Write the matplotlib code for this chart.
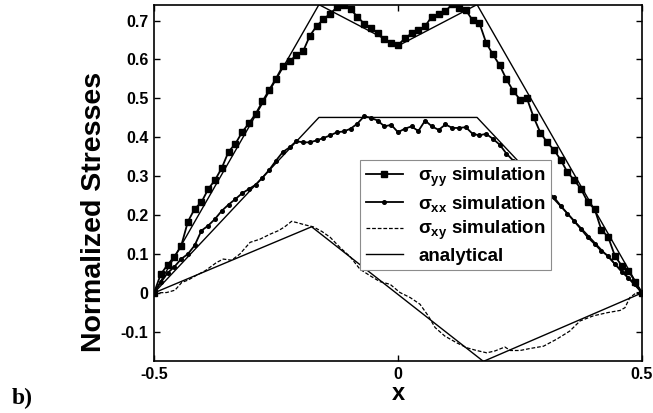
import numpy as np
import matplotlib
matplotlib.use("Agg")
import matplotlib.pyplot as plt

plt.rcParams['font.family'] = ['Liberation Sans', 'DejaVu Sans']
plt.rcParams['font.weight'] = 'bold'
plt.rcParams['mathtext.fontset'] = 'custom'
plt.rcParams['mathtext.rm'] = 'Liberation Sans:bold'
plt.rcParams['mathtext.it'] = 'Liberation Sans:bold'

# simulation grid (73 nodes across the specimen)
x_sim = np.linspace(-0.5, 0.5, 73)

sigma_yy_sim = [0.0, 0.048, 0.072, 0.093, 0.120, 0.183, 0.216, 0.233, 0.267, 0.290,
                0.321, 0.363, 0.383, 0.413, 0.436, 0.460, 0.492, 0.522, 0.551, 0.583,
                0.595, 0.611, 0.621, 0.661, 0.686, 0.703, 0.718, 0.734, 0.740, 0.729,
                0.710, 0.692, 0.682, 0.667, 0.652, 0.643, 0.637,
                0.654, 0.667, 0.675, 0.686, 0.710, 0.716, 0.724, 0.742, 0.733, 0.727,
                0.701, 0.694, 0.643, 0.613, 0.585, 0.549, 0.519, 0.497, 0.501, 0.452,
                0.412, 0.387, 0.368, 0.342, 0.310, 0.290, 0.267, 0.233, 0.216, 0.162,
                0.144, 0.095, 0.070, 0.057, 0.028, 0.0]

sigma_xx_sim = [0.0, 0.027, 0.051, 0.067, 0.087, 0.100, 0.122, 0.160, 0.173, 0.190,
                0.211, 0.227, 0.241, 0.256, 0.267, 0.278, 0.296, 0.316, 0.340, 0.362,
                0.374, 0.390, 0.387, 0.387, 0.392, 0.398, 0.405, 0.413, 0.415, 0.422,
                0.435, 0.454, 0.450, 0.443, 0.428, 0.432, 0.413,
                0.422, 0.428, 0.416, 0.443, 0.428, 0.419, 0.433, 0.424, 0.424, 0.426,
                0.409, 0.405, 0.409, 0.396, 0.381, 0.358, 0.340, 0.322, 0.305, 0.290,
                0.275, 0.260, 0.246, 0.224, 0.204, 0.184, 0.164, 0.143, 0.126, 0.108,
                0.095, 0.074, 0.055, 0.039, 0.022, 0.0]

x_xy = [-0.5, -0.474, -0.457, -0.443, -0.430, -0.412, -0.395, -0.372, -0.358, -0.341,
        -0.324, -0.303, -0.283, -0.262, -0.245, -0.232, -0.218, -0.208, -0.191, -0.174,
        -0.156, -0.139, -0.119, -0.098, -0.078, -0.057, -0.037, -0.016, 0.004, 0.025,
        0.045, 0.062, 0.076, 0.096, 0.120, 0.141, 0.161, 0.182, 0.199, 0.219,
        0.230, 0.250, 0.270, 0.298, 0.325, 0.352, 0.373, 0.400, 0.428, 0.455,
        0.465, 0.475, 0.489, 0.5]
sigma_xy_sim = [0.0, 0.001, 0.007, 0.027, 0.033, 0.046, 0.057, 0.078, 0.087, 0.084,
                0.100, 0.130, 0.138, 0.151, 0.160, 0.170, 0.184, 0.181, 0.175, 0.170,
                0.158, 0.143, 0.117, 0.093, 0.061, 0.044, 0.029, 0.022, 0.001, -0.012,
                -0.029, -0.059, -0.089, -0.111, -0.128, -0.141, -0.148, -0.154, -0.149, -0.139,
                -0.148, -0.148, -0.143, -0.137, -0.119, -0.098, -0.072, -0.059, -0.051, -0.045,
                -0.038, -0.012, 0.001, 0.0]

# analytical solutions (piecewise linear)
x_yy_an = [-0.5, -0.162, 0.0, 0.162, 0.5]
yy_an = [0.0, 0.741, 0.635, 0.741, 0.0]
x_xx_an = [-0.5, -0.162, 0.162, 0.5]
xx_an = [0.0, 0.451, 0.451, 0.0]
x_xy_an = [-0.5, -0.177, 0.175, 0.5]
xy_an = [0.0, 0.170, -0.176, 0.0]

fig = plt.figure(figsize=(6.53, 4.13), dpi=100)
ax = fig.add_axes([0.2358, 0.1259, 0.7474, 0.862])

ax.plot(x_sim, sigma_yy_sim, '-s', color='black', lw=1.3, ms=3.8,
        label=r'$\sigma_{yy}$ simulation')
ax.plot(x_sim, sigma_xx_sim, '-o', color='black', lw=1.3, ms=2.6,
        label=r'$\sigma_{xx}$ simulation')
ax.plot(x_xy, sigma_xy_sim, '--', color='black', lw=0.9, dashes=(3, 1.5),
        label=r'$\sigma_{xy}$ simulation')
ax.plot(x_yy_an, yy_an, '-', color='black', lw=1.0, label='analytical')
ax.plot(x_xx_an, xx_an, '-', color='black', lw=1.0)
ax.plot(x_xy_an, xy_an, '-', color='black', lw=1.0)

ax.set_xlim(-0.5, 0.5)
ax.set_ylim(-0.175, 0.74)
ax.set_xticks([-0.5, 0, 0.5])
ax.set_xticklabels(['-0.5', '0', '0.5'])
ax.set_yticks([-0.1, 0, 0.1, 0.2, 0.3, 0.4, 0.5, 0.6, 0.7])
ax.set_yticklabels(['-0.1', '0', '0.1', '0.2', '0.3', '0.4', '0.5', '0.6', '0.7'])
ax.tick_params(direction='in', top=True, right=True, length=4, width=1,
               labelsize=11.5, pad=4)
for s in ax.spines.values():
    s.set_linewidth(1.2)

ax.set_xlabel('x', fontsize=17, fontweight='bold', labelpad=0)
ax.set_ylabel('Normalized Stresses', fontsize=20.5, fontweight='bold')
ax.yaxis.set_label_coords(-0.096, 0.42)

leg = ax.legend(loc='upper left', bbox_to_anchor=(0.422, 0.565), borderaxespad=0,
                numpoints=1, fontsize=13.5, handlelength=2.0, handletextpad=0.8,
                labelspacing=0.28, borderpad=0.3, fancybox=False, framealpha=1,
                edgecolor='0.55')
leg.get_frame().set_linewidth(0.8)

fig.text(0.018, 0.022, 'b)', fontsize=17, fontweight='bold',
         family=['Liberation Serif', 'DejaVu Serif'])

fig.savefig('out.png', dpi=100)
